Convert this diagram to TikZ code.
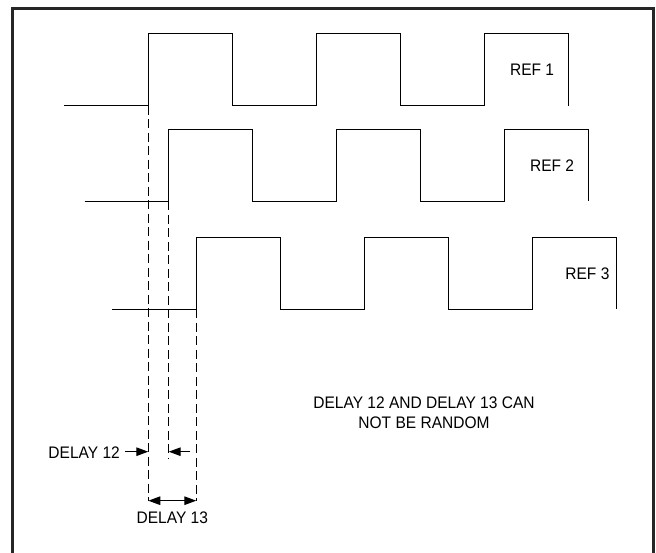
\documentclass[tikz,border=0pt]{standalone}
\usepackage{fontspec}
\setmainfont[FakeStretch=0.93]{Liberation Sans}
\usetikzlibrary{arrows.meta,calc,math}

\begin{document}
\begin{tikzpicture}[x=1pt, y=-1pt,
        sig/.style={line width=1.4pt},
        guide/.style={line width=1.3pt, dash pattern=on 9pt off 4.5pt},
        dimtip/.tip={Triangle[length=12pt,width=8.5pt]},
        dim/.style={line width=1.3pt, -dimtip},
        lbl/.style={font=\fontsize{16.7}{20}\selectfont, inner sep=0pt}]
    \tikzmath{\half = 84; \amp = 72; \arrA = 451.7; \arrB = 500.7;}
    \useasboundingbox (0,0) rectangle (656,553);
    \draw[line width=3pt, black!85] (12.5,553) -- (12.5,8.7) -- (653.3,8.7) -- (653.3,553);

    \foreach \n/\x/\lo/\gap in {1/148.3/105.7/14, 2/168.7/201.3/14.4, 3/196.3/309.3/6.7} {
        \draw[sig] (\x-\half,\lo) -- (\x,\lo) coordinate (rise\n)
            -- ++(0,-\amp) -- ++(\half,0) -- ++(0,\amp) -- ++(\half,0)
            -- ++(0,-\amp) -- ++(\half,0) -- ++(0,\amp) -- ++(\half,0)
            -- ++(0,-\amp) -- ++(\half,0) -- ++(0,\amp) coordinate (end\n);
        \node[lbl, anchor=east] (ref\n) at ($(end\n)+(-\gap,-36)$) {REF \n};
    }

    \coordinate (lvl12) at (0,\arrA);
    \coordinate (lvl13) at (0,\arrB);
    \coordinate (foot1) at (rise1 |- lvl13);
    \coordinate (foot2) at ($(rise2 |- lvl12)+(0,6.3)$);
    \coordinate (foot3) at (rise3 |- lvl13);
    \draw[guide] (rise1) -- (foot1);
    \draw[guide] (rise2) -- (foot2);
    \draw[guide] (rise3) -- (foot3);

    \node[lbl, anchor=east] (d12) at ($(rise1 |- lvl12)+(-28.3,0.8)$) {DELAY 12};
    \coordinate (tail12) at ($(rise2 |- lvl12)+(21.3,0)$);
    \draw[dim] ([xshift=5pt]d12.east |- lvl12) -- (rise1 |- lvl12);
    \draw[dim] (tail12) -- (rise2 |- lvl12);

    \draw[dim, dimtip-dimtip] (foot1) -- (foot3);
    \node[lbl] (d13) at ($(foot1)!0.5!(foot3)+(0,16.8)$) {DELAY 13};

    \node[lbl, align=center] (note) at (424,413) {DELAY 12 AND DELAY 13 CAN\\NOT BE RANDOM};
\end{tikzpicture}
\end{document}
